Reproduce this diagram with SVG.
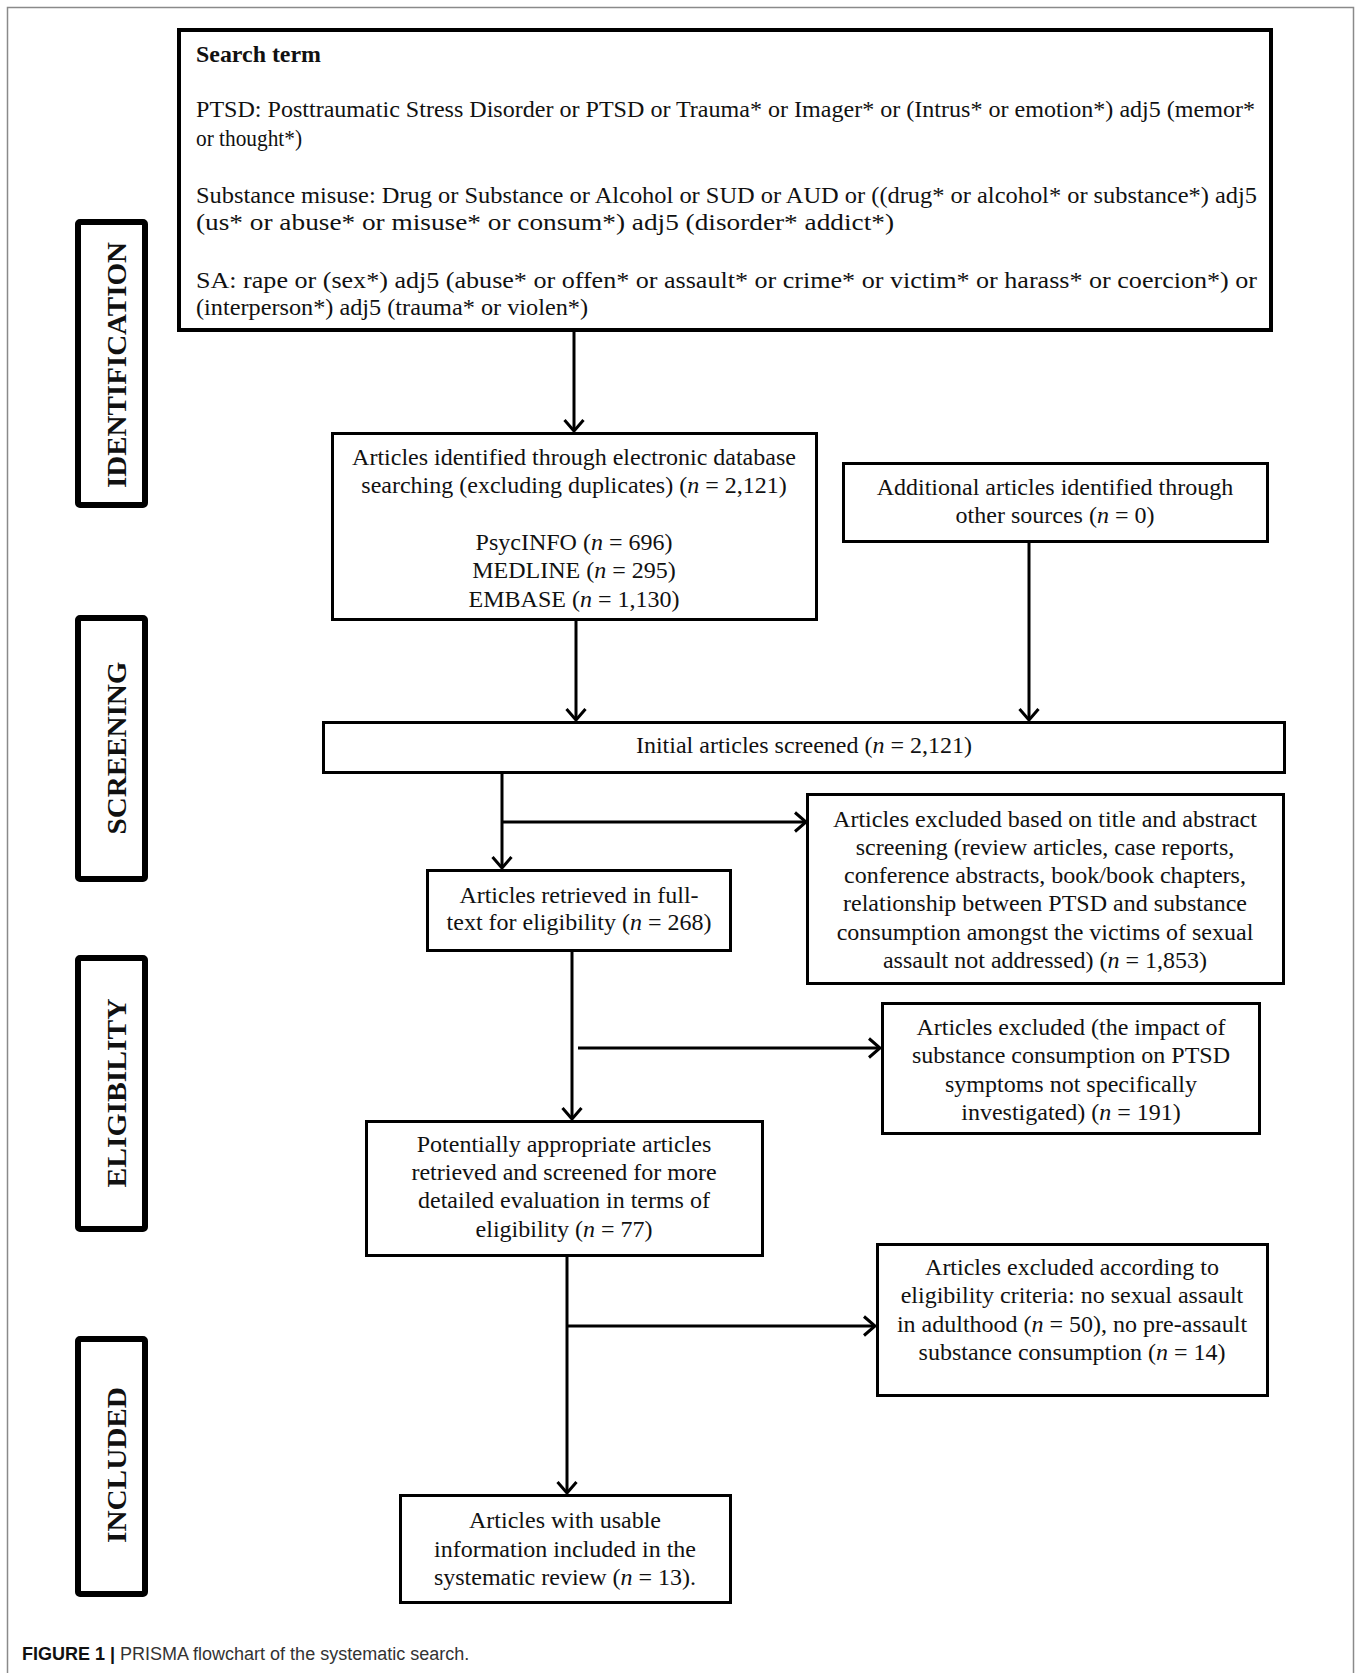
<svg xmlns="http://www.w3.org/2000/svg" width="1357" height="1673" viewBox="0 0 1357 1673">
<defs>
<marker id="chev" viewBox="0 0 14 22" refX="12.5" refY="11" markerWidth="14" markerHeight="22" markerUnits="userSpaceOnUse" orient="auto">
<path d="M1.5,1.5 L12.5,11 L1.5,20.5" fill="none" stroke="#000" stroke-width="3" stroke-linejoin="miter"/>
</marker>
<style>
.box{fill:#fff;stroke:#000;stroke-width:3}
.sbox{fill:#fff;stroke:#000;stroke-width:4}
.lbl{fill:#fff;stroke:#000;stroke-width:6}
.t{font-family:"Liberation Serif","Times New Roman",serif;font-size:24px;fill:#111}
.c{text-anchor:middle}
.side{font-family:"Liberation Serif","Times New Roman",serif;font-size:28px;font-weight:bold;fill:#111;text-anchor:middle}
.con{fill:none;stroke:#000;stroke-width:3}
.arr{marker-end:url(#chev)}
.i{font-style:italic}
.cap{font-family:"Liberation Sans",Arial,sans-serif;font-size:18px;fill:#333}
</style>
</defs>
<rect width="1357" height="1673" fill="#fff"/>
<rect x="7.5" y="7.5" width="1346" height="1720" fill="none" stroke="#8a8a8a" stroke-width="1.5"/>

<g id="connectors">
<path class="con arr" d="M574,332 V431"/>
<path class="con arr" d="M576,621 V720"/>
<path class="con arr" d="M1029,543 V720"/>
<path class="con arr" d="M502,774 V868"/>
<path class="con arr" d="M502,822 H806"/>
<path class="con arr" d="M572,952 V1119"/>
<path class="con arr" d="M578,1048 H880"/>
<path class="con arr" d="M567,1257 V1493"/>
<path class="con arr" d="M567,1326 H875"/>
</g>

<g id="search-term">
<rect class="sbox" x="179" y="30" width="1092" height="300"/>
<text class="t" x="196" y="62" font-weight="bold" textLength="125" lengthAdjust="spacingAndGlyphs">Search term</text>
<text class="t" x="196" y="117" textLength="1059" lengthAdjust="spacingAndGlyphs">PTSD: Posttraumatic Stress Disorder or PTSD or Trauma* or Imager* or (Intrus* or emotion*) adj5 (memor*</text>
<text class="t" x="196" y="146" textLength="106" lengthAdjust="spacingAndGlyphs">or thought*)</text>
<text class="t" x="196" y="203" textLength="1061" lengthAdjust="spacingAndGlyphs">Substance misuse: Drug or Substance or Alcohol or SUD or AUD or ((drug* or alcohol* or substance*) adj5</text>
<text class="t" x="196" y="230" textLength="698" lengthAdjust="spacingAndGlyphs">(us* or abuse* or misuse* or consum*) adj5 (disorder* addict*)</text>
<text class="t" x="196" y="288" textLength="1061" lengthAdjust="spacingAndGlyphs">SA: rape or (sex*) adj5 (abuse* or offen* or assault* or crime* or victim* or harass* or coercion*) or</text>
<text class="t" x="196" y="315" textLength="392" lengthAdjust="spacingAndGlyphs">(interperson*) adj5 (trauma* or violen*)</text>
</g>

<g id="db-search">
<rect class="box" x="332.5" y="433.5" width="484" height="186"/>
<text class="t c" x="574" y="465">Articles identified through electronic database</text>
<text class="t c" x="574" y="493">searching (excluding duplicates) (<tspan class="i">n</tspan> = 2,121)</text>
<text class="t c" x="574" y="550">PsycINFO (<tspan class="i">n</tspan> = 696)</text>
<text class="t c" x="574" y="578">MEDLINE (<tspan class="i">n</tspan> = 295)</text>
<text class="t c" x="574" y="607">EMBASE (<tspan class="i">n</tspan> = 1,130)</text>
</g>

<g id="additional">
<rect class="box" x="843.5" y="463.5" width="424" height="78"/>
<text class="t c" x="1055" y="495">Additional articles identified through</text>
<text class="t c" x="1055" y="523">other sources (<tspan class="i">n</tspan> = 0)</text>
</g>

<g id="initial-screened">
<rect class="box" x="323.5" y="722.5" width="961" height="50"/>
<text class="t c" x="804" y="753">Initial articles screened (<tspan class="i">n</tspan> = 2,121)</text>
</g>

<g id="excluded-title">
<rect class="box" x="807.5" y="794.5" width="476" height="189"/>
<text class="t c" x="1045" y="827">Articles excluded based on title and abstract</text>
<text class="t c" x="1045" y="855">screening (review articles, case reports,</text>
<text class="t c" x="1045" y="883">conference abstracts, book/book chapters,</text>
<text class="t c" x="1045" y="911">relationship between PTSD and substance</text>
<text class="t c" x="1045" y="940">consumption amongst the victims of sexual</text>
<text class="t c" x="1045" y="968">assault not addressed) (<tspan class="i">n</tspan> = 1,853)</text>
</g>

<g id="retrieved">
<rect class="box" x="427.5" y="870.5" width="303" height="80"/>
<text class="t c" x="579" y="903">Articles retrieved in full-</text>
<text class="t c" x="579" y="930">text for eligibility (<tspan class="i">n</tspan> = 268)</text>
</g>

<g id="excluded-impact">
<rect class="box" x="882.5" y="1003.5" width="377" height="130"/>
<text class="t c" x="1071" y="1035">Articles excluded (the impact of</text>
<text class="t c" x="1071" y="1063">substance consumption on PTSD</text>
<text class="t c" x="1071" y="1092">symptoms not specifically</text>
<text class="t c" x="1071" y="1120">investigated) (<tspan class="i">n</tspan> = 191)</text>
</g>

<g id="potentially">
<rect class="box" x="366.5" y="1121.5" width="396" height="134"/>
<text class="t c" x="564" y="1152">Potentially appropriate articles</text>
<text class="t c" x="564" y="1180">retrieved and screened for more</text>
<text class="t c" x="564" y="1208">detailed evaluation in terms of</text>
<text class="t c" x="564" y="1237">eligibility (<tspan class="i">n</tspan> = 77)</text>
</g>

<g id="excluded-eligibility">
<rect class="box" x="877.5" y="1244.5" width="390" height="151"/>
<text class="t c" x="1072" y="1275">Articles excluded according to</text>
<text class="t c" x="1072" y="1303">eligibility criteria: no sexual assault</text>
<text class="t c" x="1072" y="1332">in adulthood (<tspan class="i">n</tspan> = 50), no pre-assault</text>
<text class="t c" x="1072" y="1360">substance consumption (<tspan class="i">n</tspan> = 14)</text>
</g>

<g id="included">
<rect class="box" x="400.5" y="1495.5" width="330" height="107"/>
<text class="t c" x="565" y="1528">Articles with usable</text>
<text class="t c" x="565" y="1557">information included in the</text>
<text class="t c" x="565" y="1585">systematic review (<tspan class="i">n</tspan> = 13).</text>
</g>

<g id="label-identification">
<rect class="lbl" x="78" y="222" width="67" height="283" rx="2"/>
<text class="side" transform="translate(126,365) rotate(-90)" textLength="246" lengthAdjust="spacingAndGlyphs">IDENTIFICATION</text>
</g>
<g id="label-screening">
<rect class="lbl" x="78" y="618" width="67" height="261" rx="2"/>
<text class="side" transform="translate(126,748) rotate(-90)" textLength="173" lengthAdjust="spacingAndGlyphs">SCREENING</text>
</g>
<g id="label-eligibility">
<rect class="lbl" x="78" y="958" width="67" height="271" rx="2"/>
<text class="side" transform="translate(126,1093) rotate(-90)" textLength="189" lengthAdjust="spacingAndGlyphs">ELIGIBILITY</text>
</g>
<g id="label-included">
<rect class="lbl" x="78" y="1339" width="67" height="255" rx="2"/>
<text class="side" transform="translate(126,1465) rotate(-90)" textLength="156" lengthAdjust="spacingAndGlyphs">INCLUDED</text>
</g>

<text class="cap" x="22" y="1660"><tspan font-weight="bold" fill="#111">FIGURE 1 | </tspan>PRISMA flowchart of the systematic search.</text>
</svg>
